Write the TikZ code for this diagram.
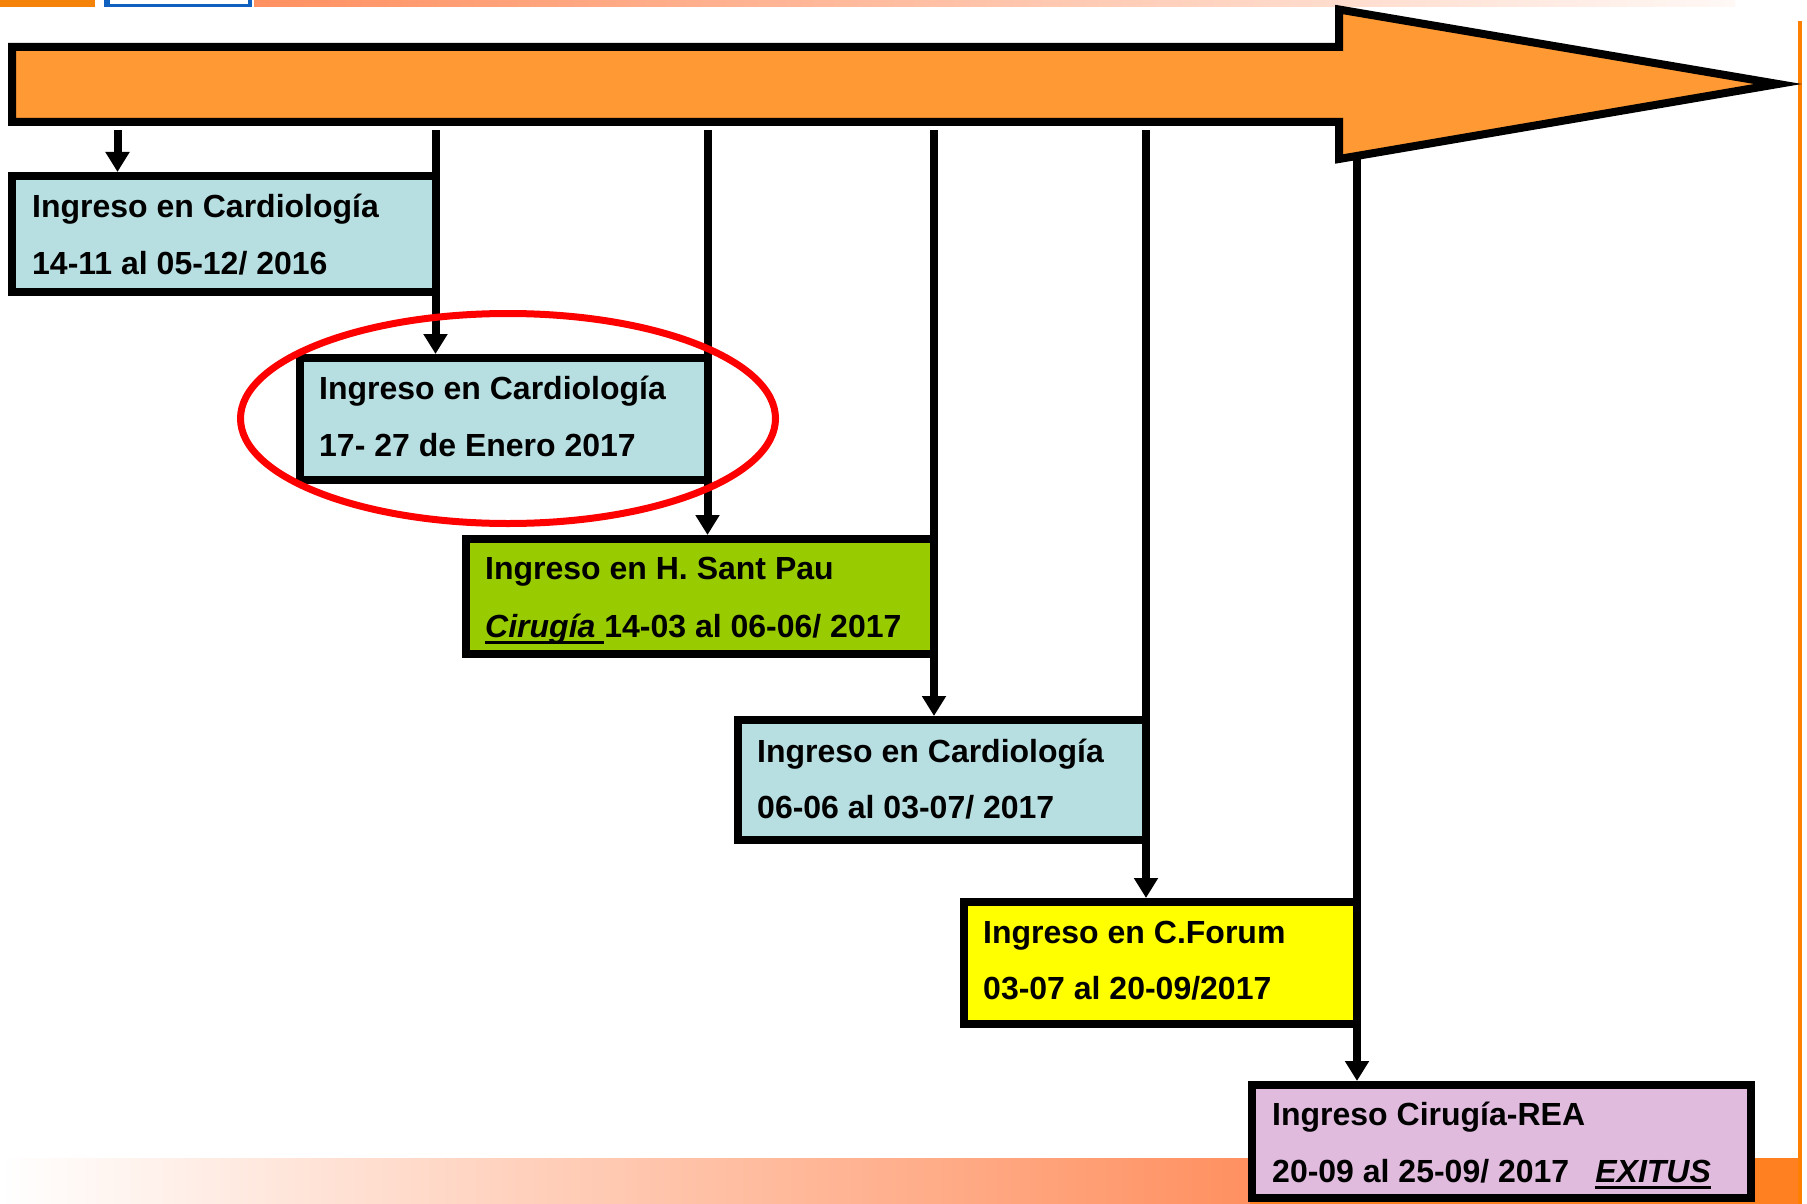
\documentclass[tikz,border=0pt]{standalone}
\usepackage{fontspec}
\setmainfont{Liberation Sans}
\usetikzlibrary{arrows.meta}
\definecolor{arroworange}{HTML}{FF9933}
\definecolor{boxblue}{HTML}{B7DFE2}
\definecolor{boxgreen}{HTML}{99CC00}
\definecolor{boxyellow}{HTML}{FFFF00}
\definecolor{boxpink}{HTML}{E0BBDE}
\definecolor{decoorange}{HTML}{F58209}
\definecolor{decoline}{HTML}{FF8000}
\definecolor{decosalmon}{HTML}{FF9060}
\definecolor{decoband}{HTML}{FF8020}
\definecolor{decoblue}{HTML}{1060C0}
\newsavebox\ulsave
\newcommand\ulbox[1]{\sbox\ulsave{#1}\rlap{\rule[-7pt]{\wd\ulsave}{3pt}}\usebox\ulsave}
\begin{document}
\begin{tikzpicture}[x=1pt,y=-1pt,
  stage/.style={draw=black, line width=8pt, inner sep=0pt, rectangle},
  txt/.style={anchor=base west, inner sep=0pt, font=\fontsize{32}{38}\selectfont\bfseries},
  conn/.style={line width=8pt, -{Triangle[width=23pt,length=20pt]}},
]
\useasboundingbox (0,0) rectangle (1807,1204);
% slide decorations
\fill[decoorange] (0,0) rectangle (95,7);
\fill[decoblue] (104,0) rectangle (252,7);
\fill[white] (110,0) rectangle (248,4);
\shade[left color=decosalmon, right color=decosalmon!6] (254,0) rectangle (1735,7);
\shade[left color=white, right color=decosalmon] (0,1158) rectangle (1250,1204);
\fill[decoband] (1250,1158) rectangle (1802,1204);
\fill[decoline] (1798,21) rectangle (1802,1204);

% connector starts
\coordinate (s1) at (117.5,130);
\coordinate (s2) at (435.5,130);
\coordinate (s3) at (707.5,130);
\coordinate (s4) at (934,130);
\coordinate (s5) at (1146,130);
\coordinate (s6) at (1357,156);

% boxes
\node[stage, fill=boxblue, minimum width=423.5pt, minimum height=116pt] (b1) at (223.75,234) {};
\node[stage, fill=boxblue, minimum width=408pt, minimum height=122pt] (b2) at (503.5,419) {};
\node[stage, fill=boxgreen, minimum width=468pt, minimum height=115pt] (b3) at (700,596.5) {};
\node[stage, fill=boxblue, minimum width=408.5pt, minimum height=120pt] (b4) at (941.75,780) {};
\node[stage, fill=boxyellow, minimum width=393pt, minimum height=122pt] (b5) at (1160.5,963) {};
\node[stage, fill=boxpink, minimum width=499pt, minimum height=113pt] (b6) at (1501.5,1141.5) {};

% texts
\node[txt] (t1a) at (32,217) {Ingreso en Cardiología};
\node[txt] (t1b) at (32,274) {14-11 al 05-12/ 2016};
\node[txt] (t2a) at (319,399) {Ingreso en Cardiología};
\node[txt] (t2b) at (319,456) {17- 27 de Enero 2017};
\node[txt] (t3a) at (485,579) {Ingreso en H. Sant Pau};
\node[txt] (t3b) at (485,637) {\ulbox{\itshape Cirugía\ }14-03 al 06-06/ 2017};
\node[txt] (t4a) at (757,762) {Ingreso en Cardiología};
\node[txt] (t4b) at (757,818) {06-06 al 03-07/ 2017};
\node[txt] (t5a) at (983,943) {Ingreso en C.Forum};
\node[txt] (t5b) at (983,999) {03-07 al 20-09/2017};
\node[txt] (t6a) at (1272,1125) {Ingreso Cirugía-REA};
\node[txt] (t6b) at (1272,1182) {20-09 al 25-09/ 2017\hspace{26pt}\ulbox{\itshape EXITUS}};

% connectors
\draw[conn] (s1) -- (s1 |- b1.north);
\draw[conn] (s2) -- (s2 |- b2.north);
\draw[conn] (s3) -- (s3 |- b3.north);
\draw[conn] (s4) -- (s4 |- b4.north);
\draw[conn] (s5) -- (s5 |- b5.north);
\draw[conn] (s6) -- (s6 |- b6.north);

% big timeline arrow
\draw[line width=8pt, fill=arroworange, miter limit=10]
  (12,47) -- (1339,47) -- (1339,9.5) -- (1778,84) -- (1339,159) -- (1339,122) -- (12,122) -- cycle;

% highlight ellipse
\draw[red, line width=7pt] (508,418.5) ellipse [x radius=267.5pt, y radius=105pt];
\end{tikzpicture}
\end{document}
